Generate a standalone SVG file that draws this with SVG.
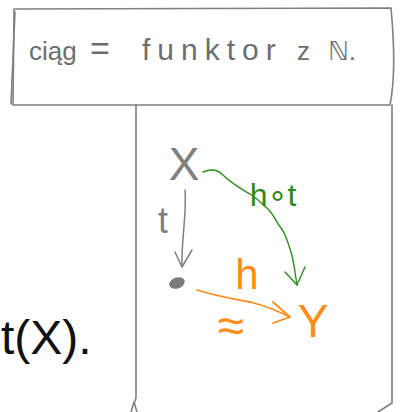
<svg xmlns="http://www.w3.org/2000/svg" width="404" height="412" viewBox="0 0 404 412">
<style>
.frame{fill:none;stroke:#808080;stroke-width:1.6;stroke-linecap:round;stroke-linejoin:round}
.gray{fill:none;stroke:#808080;stroke-width:1.5;stroke-linecap:round;stroke-linejoin:round}
.green{fill:none;stroke:#2e8b1e;stroke-width:1.4;stroke-linecap:round;stroke-linejoin:round}
.orange{fill:none;stroke:#ff8c1a;stroke-width:1.8;stroke-linecap:round;stroke-linejoin:round}
text{font-family:"Liberation Sans","DejaVu Sans",sans-serif}
.title{font-size:26px;fill:#6e6e6e}
.tg{fill:#808080}
.tgr{fill:#2e8b1e}
.tor{fill:#ff8c1a}
</style>
<g id="title-box">
<path class="frame" d="M14,9 L391,8 C394,40 395,80 390,105 L13,105 Z"/>
<path class="frame" d="M15,12 L11,104"/>
<text class="title" y="60"><tspan x="29">ciąg</tspan><tspan x="90" font-size="34">=</tspan><tspan x="142" font-size="30" letter-spacing="7">funktor</tspan><tspan x="297">z</tspan><tspan x="328">ℕ.</tspan></text>
</g>
<g id="panel">
<path class="frame" d="M136,105 L136,398 M136,398 L134,404 M131,412 L134,402 L137,412"/>
<path class="frame" d="M392,105 L392,403 L378,412"/>
</g>
<g id="left-text">
<text x="1" y="354" font-size="48" fill="#111">t(X).</text>
</g>
<g id="node-X">
<text x="184" y="180" font-size="46" text-anchor="middle" class="tg">X</text>
</g>
<g id="node-dot">
<ellipse cx="177" cy="283" rx="8" ry="5.5" transform="rotate(-20 177 283)" fill="#7a7a7a"/>
</g>
<g id="node-Y">
<text x="313" y="337" font-size="46" text-anchor="middle" class="tor">Y</text>
</g>
<g id="connectors">
<path class="gray" d="M185,190 C187,215 181,240 182,267"/>
<path class="gray" d="M175,252 L182,267 L192,250"/>
<path class="green" d="M203,172 C210,169 217,169 223,175 C232,184 240,188 250,194 C258,199 262,204 268,209 C274,215 276,222 281,228 C287,236 288,244 291,252 C294,262 295,273 297,285"/>
<path class="green" d="M285,272 L297,285 L305,267"/>
<path class="orange" d="M197,290 C215,296 235,299 250,302 C262,305 276,310 290,317"/>
<path class="orange" d="M273,302 L290,317 L273,323"/>
</g>
<g id="labels">
<text x="163" y="233" font-size="36" text-anchor="middle" class="tg">t</text>
<text x="273" y="206" font-size="32" text-anchor="middle" class="tgr">h∘t</text>
<text x="247" y="289" font-size="42" text-anchor="middle" class="tor">h</text>
<text x="231" y="342" font-size="48" text-anchor="middle" class="tor">≈</text>
</g>
</svg>
